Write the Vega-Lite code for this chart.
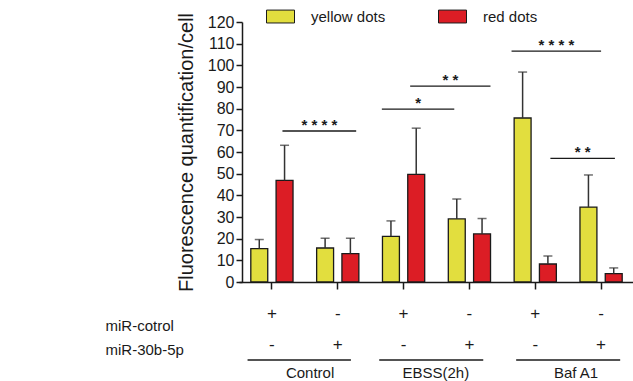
{
  "$schema": "https://vega.github.io/schema/vega-lite/v6.json",
  "padding": {"left": 105, "top": 2, "right": 0, "bottom": 0},
  "background": "white",
  "config": {
    "view": {"stroke": null},
    "font": "Liberation Sans",
    "axis": {"grid": false, "labelFont": "Liberation Sans", "titleFont": "Liberation Sans", "labelColor": "#1a1a1a", "titleColor": "#1a1a1a", "domainColor": "#1a1a1a", "tickColor": "#1a1a1a"},
    "axisY": {"tickCount": 12, "labelOverlap": false, "labelSeparation": 0, "labelBound": false},
    "legend": {"labelFont": "Liberation Sans"}
  },
  "datasets": {
    "bars": [
      {"condition": "Control|miR-cotrol", "dots": "yellow dots", "mean": 15.4, "upper": 19.6},
      {"condition": "Control|miR-cotrol", "dots": "red dots", "mean": 46.9, "upper": 63.1},
      {"condition": "Control|miR-30b-5p", "dots": "yellow dots", "mean": 15.7, "upper": 20.2},
      {"condition": "Control|miR-30b-5p", "dots": "red dots", "mean": 13.1, "upper": 20.2},
      {"condition": "EBSS(2h)|miR-cotrol", "dots": "yellow dots", "mean": 21.1, "upper": 28.2},
      {"condition": "EBSS(2h)|miR-cotrol", "dots": "red dots", "mean": 49.7, "upper": 71.0},
      {"condition": "EBSS(2h)|miR-30b-5p", "dots": "yellow dots", "mean": 29.1, "upper": 38.3},
      {"condition": "EBSS(2h)|miR-30b-5p", "dots": "red dots", "mean": 22.2, "upper": 29.3},
      {"condition": "Baf A1|miR-cotrol", "dots": "yellow dots", "mean": 75.7, "upper": 96.9},
      {"condition": "Baf A1|miR-cotrol", "dots": "red dots", "mean": 8.3, "upper": 12.0},
      {"condition": "Baf A1|miR-30b-5p", "dots": "yellow dots", "mean": 34.6, "upper": 49.4},
      {"condition": "Baf A1|miR-30b-5p", "dots": "red dots", "mean": 3.9, "upper": 6.5}
    ],
    "sig": [
      {"start": 0.66, "end": 1.78, "mid": 1.22, "level": 69.7, "stars": "* * * *"},
      {"start": 2.17, "end": 3.27, "mid": 2.72, "level": 79.8, "stars": "*"},
      {"start": 2.60, "end": 3.82, "mid": 3.21, "level": 90.4, "stars": "* *"},
      {"start": 4.14, "end": 5.50, "mid": 4.82, "level": 106.6, "stars": "* * * *"},
      {"start": 4.73, "end": 5.71, "mid": 5.22, "level": 57.1, "stars": "* *"}
    ],
    "table": [
      {"condition": "Control|miR-cotrol", "row": "miR-cotrol", "sign": "+"},
      {"condition": "Control|miR-cotrol", "row": "miR-30b-5p", "sign": "-"},
      {"condition": "Control|miR-30b-5p", "row": "miR-cotrol", "sign": "-"},
      {"condition": "Control|miR-30b-5p", "row": "miR-30b-5p", "sign": "+"},
      {"condition": "EBSS(2h)|miR-cotrol", "row": "miR-cotrol", "sign": "+"},
      {"condition": "EBSS(2h)|miR-cotrol", "row": "miR-30b-5p", "sign": "-"},
      {"condition": "EBSS(2h)|miR-30b-5p", "row": "miR-cotrol", "sign": "-"},
      {"condition": "EBSS(2h)|miR-30b-5p", "row": "miR-30b-5p", "sign": "+"},
      {"condition": "Baf A1|miR-cotrol", "row": "miR-cotrol", "sign": "+"},
      {"condition": "Baf A1|miR-cotrol", "row": "miR-30b-5p", "sign": "-"},
      {"condition": "Baf A1|miR-30b-5p", "row": "miR-cotrol", "sign": "-"},
      {"condition": "Baf A1|miR-30b-5p", "row": "miR-30b-5p", "sign": "+"}
    ],
    "groups": [
      {"group": "Control", "start": 0.13, "end": 1.70, "mid": 1.08, "row": "group"},
      {"group": "EBSS(2h)", "start": 2.13, "end": 3.71, "mid": 2.99, "row": "group"},
      {"group": "Baf A1", "start": 4.21, "end": 5.79, "mid": 5.12, "row": "group"}
    ]
  },
  "vconcat": [
    {
      "width": 395,
      "height": 260,
      "layer": [
        {
          "data": {"name": "bars"},
          "encoding": {
            "x": {
              "field": "condition", "type": "nominal",
              "sort": ["Control|miR-cotrol", "Control|miR-30b-5p", "EBSS(2h)|miR-cotrol", "EBSS(2h)|miR-30b-5p", "Baf A1|miR-cotrol", "Baf A1|miR-30b-5p"],
              "scale": {"domain": ["Control|miR-cotrol", "Control|miR-30b-5p", "EBSS(2h)|miR-cotrol", "EBSS(2h)|miR-30b-5p", "Baf A1|miR-cotrol", "Baf A1|miR-30b-5p"], "paddingInner": 0, "paddingOuter": 0},
              "axis": {"title": null, "labels": false, "ticks": true, "tickSize": 7, "tickWidth": 1.5, "domainWidth": 1.5}
            },
            "xOffset": {
              "field": "dots", "type": "nominal",
              "sort": ["yellow dots", "red dots"],
              "scale": {"domain": ["yellow dots", "red dots"], "paddingInner": 0.33, "paddingOuter": 0.467}
            }
          },
          "layer": [
            {
              "mark": {"type": "bar", "stroke": "#1a1a1a", "strokeWidth": 1.3},
              "encoding": {
                "y": {
                  "field": "mean", "type": "quantitative",
                  "scale": {"domain": [0, 120], "nice": false},
                  "title": "Fluorescence quantification/cell",
                  "axis": {"tickCount": 12, "labelOverlap": false, "tickSize": 6, "tickWidth": 1.5, "domainWidth": 1.5, "offset": -3, "labelFontSize": 16, "labelPadding": 2, "titleFontSize": 20, "titleFontWeight": "normal", "titlePadding": 11}
                },
                "color": {
                  "field": "dots", "type": "nominal",
                  "scale": {"domain": ["yellow dots", "red dots"], "range": ["#e2de3e", "#dc1d25"]},
                  "legend": {"title": null, "orient": "none", "direction": "horizontal", "legendX": 27, "legendY": -20, "symbolType": "M-1,-0.46H1V0.46H-1Z", "symbolSize": 784, "symbolStrokeColor": "#1a1a1a", "symbolStrokeWidth": 1, "symbolOpacity": 1, "labelFontSize": 15, "labelColor": "#1a1a1a", "labelOffset": 16, "columnPadding": 50, "padding": 0}
                }
              }
            },
            {
              "mark": {"type": "rule", "color": "#333333", "strokeWidth": 1.5},
              "encoding": {
                "y": {"field": "mean", "type": "quantitative", "title": "Fluorescence quantification/cell"},
                "y2": {"field": "upper"}
              }
            },
            {
              "mark": {"type": "tick", "color": "#333333", "thickness": 1.5, "size": 9, "orient": "horizontal"},
              "encoding": {
                "y": {"field": "upper", "type": "quantitative", "title": "Fluorescence quantification/cell"}
              }
            }
          ]
        },
        {
          "data": {"name": "sig"},
          "encoding": {
            "x": {"field": "start", "type": "quantitative", "scale": {"domain": [0, 6], "nice": false, "zero": false}, "axis": null}
          },
          "layer": [
            {
              "mark": {"type": "rule", "color": "#1a1a1a", "strokeWidth": 1.3},
              "encoding": {
                "x": {"field": "start", "type": "quantitative", "scale": {"domain": [0, 6], "nice": false, "zero": false}, "axis": null},
                "x2": {"field": "end"},
                "y": {"field": "level", "type": "quantitative", "title": "Fluorescence quantification/cell"}
              }
            },
            {
              "mark": {"type": "text", "fontSize": 15, "fontWeight": "bold", "baseline": "alphabetic", "dy": -1, "color": "#1a1a1a", "font": "Liberation Sans"},
              "encoding": {
                "x": {"field": "mid", "type": "quantitative", "scale": {"domain": [0, 6], "nice": false, "zero": false}, "axis": null},
                "y": {"field": "level", "type": "quantitative", "title": "Fluorescence quantification/cell"},
                "text": {"field": "stars"}
              }
            }
          ]
        }
      ],
      "resolve": {"scale": {"x": "independent"}, "axis": {"x": "independent"}}
    },
    {
      "width": 395,
      "height": 62,
      "layer": [
        {
          "data": {"name": "table"},
          "mark": {"type": "text", "fontSize": 17, "baseline": "middle", "color": "#1a1a1a", "font": "Liberation Sans"},
          "encoding": {
            "x": {
              "field": "condition", "type": "nominal",
              "scale": {"domain": ["Control|miR-cotrol", "Control|miR-30b-5p", "EBSS(2h)|miR-cotrol", "EBSS(2h)|miR-30b-5p", "Baf A1|miR-cotrol", "Baf A1|miR-30b-5p"], "paddingInner": 0, "paddingOuter": 0},
              "axis": null
            },
            "y": {
              "field": "row", "type": "ordinal", "title": null,
              "scale": {"type": "point", "domain": ["miR-cotrol", "miR-30b-5p", "group"], "padding": 0},
              "axis": {"domain": false, "ticks": false, "labelAlign": "left", "labelPadding": 134, "labelFontSize": 15, "labelExpr": "datum.value === 'group' ? '' : datum.label", "labelOffset": {"condition": {"test": "datum.value === 'miR-cotrol'", "value": 11}, "value": 4}}
            },
            "text": {"field": "sign"}
          }
        },
        {
          "data": {"name": "groups"},
          "mark": {"type": "rule", "color": "#1a1a1a", "strokeWidth": 1.3, "yOffset": -16},
          "encoding": {
            "x": {"field": "start", "type": "quantitative", "scale": {"domain": [0, 6], "nice": false, "zero": false}, "axis": null},
            "x2": {"field": "end"},
            "y": {"field": "row", "type": "ordinal", "title": null}
          }
        },
        {
          "data": {"name": "groups"},
          "mark": {"type": "text", "fontSize": 15, "baseline": "middle", "dy": -3, "color": "#1a1a1a", "font": "Liberation Sans"},
          "encoding": {
            "x": {"field": "mid", "type": "quantitative", "scale": {"domain": [0, 6], "nice": false, "zero": false}, "axis": null},
            "y": {"field": "row", "type": "ordinal", "title": null},
            "text": {"field": "group"}
          }
        }
      ],
      "resolve": {"scale": {"x": "independent"}}
    }
  ],
  "spacing": 32,
  "bounds": "flush"
}
